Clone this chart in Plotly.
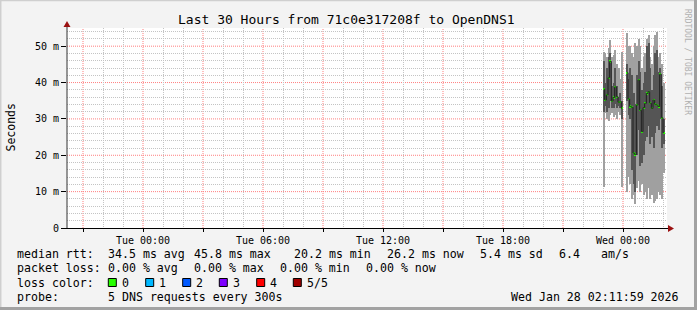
import plotly.graph_objects as go

# ---------------- data ----------------
times = [
    "2026-01-27 23:02:30", "2026-01-27 23:07:30", "2026-01-27 23:12:30", "2026-01-27 23:17:30",
    "2026-01-27 23:22:30", "2026-01-27 23:27:30", "2026-01-27 23:32:30", "2026-01-27 23:37:30",
    "2026-01-27 23:42:30", "2026-01-27 23:47:30", "2026-01-27 23:52:30", "2026-01-27 23:57:30",
    "2026-01-28 00:02:30", "2026-01-28 00:07:30",
    "2026-01-28 00:12:30", "2026-01-28 00:17:30", "2026-01-28 00:22:30", "2026-01-28 00:27:30",
    "2026-01-28 00:32:30", "2026-01-28 00:37:30", "2026-01-28 00:42:30", "2026-01-28 00:47:30",
    "2026-01-28 00:52:30", "2026-01-28 00:57:30", "2026-01-28 01:02:30", "2026-01-28 01:07:30",
    "2026-01-28 01:12:30", "2026-01-28 01:17:30", "2026-01-28 01:22:30", "2026-01-28 01:27:30",
    "2026-01-28 01:32:30", "2026-01-28 01:37:30", "2026-01-28 01:42:30", "2026-01-28 01:47:30",
    "2026-01-28 01:52:30", "2026-01-28 01:57:30", "2026-01-28 02:02:30",
]
median_ms = [38.2, 35.2, 36.6, 41.3, 45.8, 34.9, 35.9, 38.8, 36.1, 34.6, 34.7, 32.9,
             None, None,
             42.7, 35.5, 33.4, 33.2, 20.6, 20.2, 33.8, 40.7, 32.4, 26.5, 33.1, 34.3,
             37.0, 37.5, 34.3, 32.9, 35.2, 34.0, 33.8, 33.4, 42.3, 30.3, 26.2]
ping_min = [11.4, 31.6, 30.0, 29.5, 31.0, 31.5, 30.5, 31.0, 30.0, 32.0, 31.0, 11.4,
            None, None,
            10.0, 14.0, 12.0, 8.0, 9.0, 6.5, 11.0, 13.0, 10.0, 12.0, 9.0, 10.0,
            8.0, 11.0, 8.0, 9.0, 7.0, 7.5, 8.0, 10.0, 9.0, 8.0, 15.0]
ping_p2 = [32.0, 33.5, 32.0, 33.0, 35.0, 33.0, 33.0, 34.0, 33.0, 33.5, 33.0, 30.0,
           None, None,
           35.0, 31.0, 30.0, 16.0, 12.0, 10.0, 20.0, 27.0, 17.0, 18.0, 20.0, 24.0,
           25.0, 28.0, 23.0, 25.0, 22.0, 26.0, 28.0, 27.0, 30.0, 22.0, 23.0]
ping_p4 = [46.0, 40.0, 44.0, 47.0, 48.0, 39.0, 40.0, 44.0, 39.0, 36.0, 37.0, 35.0,
           None, None,
           45.0, 41.0, 44.0, 42.0, 37.0, 34.0, 42.0, 46.0, 43.0, 38.0, 40.0, 43.0,
           50.0, 51.0, 44.0, 38.0, 42.0, 48.0, 49.0, 43.0, 44.0, 39.0, 30.0]
ping_max = [48.4, 48.0, 47.0, 49.5, 51.6, 47.0, 47.5, 49.0, 45.0, 44.0, 41.0, 48.4,
            None, None,
            53.5, 50.0, 50.0, 48.0, 47.0, 51.0, 50.0, 52.0, 50.0, 44.0, 47.0, 48.0,
            52.0, 53.0, 47.0, 45.0, 50.0, 53.0, 54.0, 47.0, 48.0, 45.0, 40.0]

x_range = ["2026-01-26 20:11:59", "2026-01-28 02:11:59"]
x_tickvals = ["2026-01-26 21:00", "2026-01-27 00:00", "2026-01-27 03:00", "2026-01-27 06:00",
              "2026-01-27 09:00", "2026-01-27 12:00", "2026-01-27 15:00", "2026-01-27 18:00",
              "2026-01-27 21:00", "2026-01-28 00:00"]
x_ticktext = ["", "Tue 00:00", "", "Tue 06:00", "", "Tue 12:00", "", "Tue 18:00", "", "Wed 00:00"]
x_minorvals = ["2026-01-26 22:00", "2026-01-26 23:00", "2026-01-27 01:00", "2026-01-27 02:00",
               "2026-01-27 04:00", "2026-01-27 05:00", "2026-01-27 07:00", "2026-01-27 08:00",
               "2026-01-27 10:00", "2026-01-27 11:00", "2026-01-27 13:00", "2026-01-27 14:00",
               "2026-01-27 16:00", "2026-01-27 17:00", "2026-01-27 19:00", "2026-01-27 20:00",
               "2026-01-27 22:00", "2026-01-27 23:00", "2026-01-28 01:00", "2026-01-28 02:00"]
y_tickvals = [0, 10, 20, 30, 40, 50]
y_ticktext = ["0", "10 m", "20 m", "30 m", "40 m", "50 m"]
y_minorvals = [2, 4, 6, 8, 12, 14, 16, 18, 22, 24, 26, 28, 32, 34, 36, 38, 42, 44, 46, 48, 52, 54]

title_text = "Last 30 Hours from 71c0e317208f to OpenDNS1"
legend_rtt = [("median rtt:", 16), ("34.5 ms avg", 107.3), ("45.8 ms max", 193.3),
              ("20.2 ms min", 293.3), ("26.2 ms now", 386), ("5.4 ms sd", 479.3),
              ("6.4", 558.3), ("am/s", 600)]
legend_loss = [("packet loss:", 16), ("0.00 % avg", 107.3), ("0.00 % max", 193.3),
               ("0.00 % min", 279.3), ("0.00 % now", 365)]
loss_labels = ["0", "1", "2", "3", "4", "5/5"]
loss_colors = ["#26ff00", "#00b8ff", "#0059ff", "#7e00ff", "#ff0000", "#a00000"]
loss_box_x = [108.3, 145.7, 182.7, 219.3, 256.7, 293.3]
probe_text = "5 DNS requests every 300s"
stamp_text = "Wed Jan 28 02:11:59 2026"

# ---------------- geometry helpers ----------------
W, H = 697, 310
L, R, T, B = 67, 667, 28, 228
def px(x):
    return (x - L) / (R - L)
def py(y):
    return (B - y) / (B - T)

MONO = "DejaVu Sans Mono"
STEP_MS = 300000
MAJOR_GRID = "#ff7f7f"
MINOR_GRID = "#c4c4c4"

def span(lo, hi):
    return [None if (a is None or b is None) else b - a for a, b in zip(lo, hi)]

fig = go.Figure()
fig.add_trace(go.Bar(x=times, base=ping_min, y=span(ping_min, ping_max), width=STEP_MS,
                     marker=dict(color="#a0a0a0", line=dict(width=0)), hoverinfo="skip"))
fig.add_trace(go.Bar(x=times, base=ping_p2, y=span(ping_p2, ping_p4), width=STEP_MS,
                     marker=dict(color="#555555", line=dict(width=0)), hoverinfo="skip"))
fig.add_trace(go.Scatter(x=times, y=median_ms, mode="lines", line=dict(color="#202020", width=1, shape="hvh"),
                         connectgaps=False, hoverinfo="skip"))
fig.add_trace(go.Bar(x=times, base=[None if m is None else m - 0.3 for m in median_ms],
                     y=[None if m is None else 0.6 for m in median_ms], width=STEP_MS,
                     marker=dict(color=loss_colors[0], line=dict(width=0)), hoverinfo="skip"))

fig.update_layout(
    width=W, height=H, margin=dict(l=L, r=W - R, t=T, b=H - B),
    paper_bgcolor="#f3f3f3", plot_bgcolor="#ffffff",
    barmode="overlay", bargap=0, showlegend=False,
    font=dict(family=MONO, size=10, color="#000000"),
)
fig.update_xaxes(
    type="date", range=x_range, tickmode="array", tickvals=x_tickvals, ticktext=x_ticktext,
    showgrid=False,
    ticks="outside", ticklen=3, tickcolor="#000000", showline=False, zeroline=False,
    tickfont=dict(family=MONO, size=10, color="#000000"),
    minor=dict(tickmode="array", tickvals=x_minorvals, showgrid=True, gridcolor=MINOR_GRID,
               griddash="1px,1px", ticks=""),
    fixedrange=True,
)
fig.update_yaxes(
    range=[0, 55], tickmode="array", tickvals=y_tickvals, ticktext=y_ticktext,
    showgrid=False,
    ticks="outside", ticklen=5, tickcolor="#000000", showline=False, zeroline=False,
    tickfont=dict(family=MONO, size=10, color="#000000"),
    minor=dict(tickmode="array", tickvals=y_minorvals, showgrid=True, gridcolor=MINOR_GRID,
               griddash="1px,1px", ticks=""),
    fixedrange=True,
)

shapes = []
# major grid (red dotted), under the data
for tv in x_tickvals:
    shapes.append(dict(type="line", xref="x", yref="paper", x0=tv, x1=tv, y0=0, y1=1, layer="below",
                       line=dict(color=MAJOR_GRID, width=1, dash="1px,1px")))
for tv in y_tickvals[1:]:
    shapes.append(dict(type="line", xref="paper", yref="y", x0=0, x1=1, y0=tv, y1=tv, layer="below",
                       line=dict(color=MAJOR_GRID, width=1, dash="1px,1px")))
# frame
shapes.append(dict(type="line", xref="paper", yref="paper", x0=px(0), x1=px(W), y0=py(0.5), y1=py(0.5),
                   line=dict(color="#cfcfcf", width=1.5)))
shapes.append(dict(type="line", xref="paper", yref="paper", x0=px(0.7), x1=px(0.7), y0=py(0), y1=py(H),
                   line=dict(color="#cfcfcf", width=1.5)))
shapes.append(dict(type="line", xref="paper", yref="paper", x0=px(0), x1=px(W), y0=py(H - 1.5), y1=py(H - 1.5),
                   line=dict(color="#a2a2a2", width=3)))
shapes.append(dict(type="line", xref="paper", yref="paper", x0=px(W - 1.5), x1=px(W - 1.5), y0=py(0), y1=py(H),
                   line=dict(color="#a2a2a2", width=3)))
# axes
shapes.append(dict(type="line", xref="paper", yref="paper", x0=px(67), x1=px(67), y0=py(228.5), y1=py(26),
                   line=dict(color="#333333", width=1)))
shapes.append(dict(type="line", xref="paper", yref="paper", x0=px(62), x1=px(669), y0=py(228.5), y1=py(228.5),
                   line=dict(color="#000000", width=1)))
shapes.append(dict(type="path", xref="paper", yref="paper",
                   path="M %f %f L %f %f L %f %f Z" % (px(63.5), py(27), px(70.5), py(27), px(67), py(21)),
                   fillcolor="#9b1111", line=dict(width=0)))
shapes.append(dict(type="path", xref="paper", yref="paper",
                   path="M %f %f L %f %f L %f %f Z" % (px(668), py(225), px(668), py(232), px(674), py(228.5)),
                   fillcolor="#9b1111", line=dict(width=0)))
# loss colour boxes
for bx, col in zip(loss_box_x, loss_colors):
    shapes.append(dict(type="rect", xref="paper", yref="paper", x0=px(bx), x1=px(bx + 8),
                       y0=py(278.5), y1=py(286.5), fillcolor=col, line=dict(color="#000000", width=1)))
fig.update_layout(shapes=shapes)

ann = []
def text(t, x, y, size=11.6, xanchor="left", angle=0, color="#000000"):
    ann.append(dict(text=t, x=px(x), y=py(y), xref="paper", yref="paper", showarrow=False,
                    xanchor=xanchor, yanchor="middle", textangle=angle, borderpad=0,
                    font=dict(family=MONO, size=size, color=color)))

text(title_text, 346.5, 19, size=13, xanchor="center")
text("Seconds", 10.5, 128, size=11.5, xanchor="center", angle=-90)
text("RRDTOOL / TOBI OETIKER", 688, 62, size=8, xanchor="center", angle=90, color="#b0b0b0")
for t, x in legend_rtt:
    text(t, x, 254)
for t, x in legend_loss:
    text(t, x, 268.3)
text("loss color:", 16, 282.7)
for lbl, bx in zip(loss_labels, loss_box_x):
    text(lbl, bx + 12.4, 282.7)
text("probe:", 16, 296.7)
text(probe_text, 107.3, 296.7)
text(stamp_text, 680, 296.7, xanchor="right")
fig.update_layout(annotations=ann)

fig.write_html("out.html")
